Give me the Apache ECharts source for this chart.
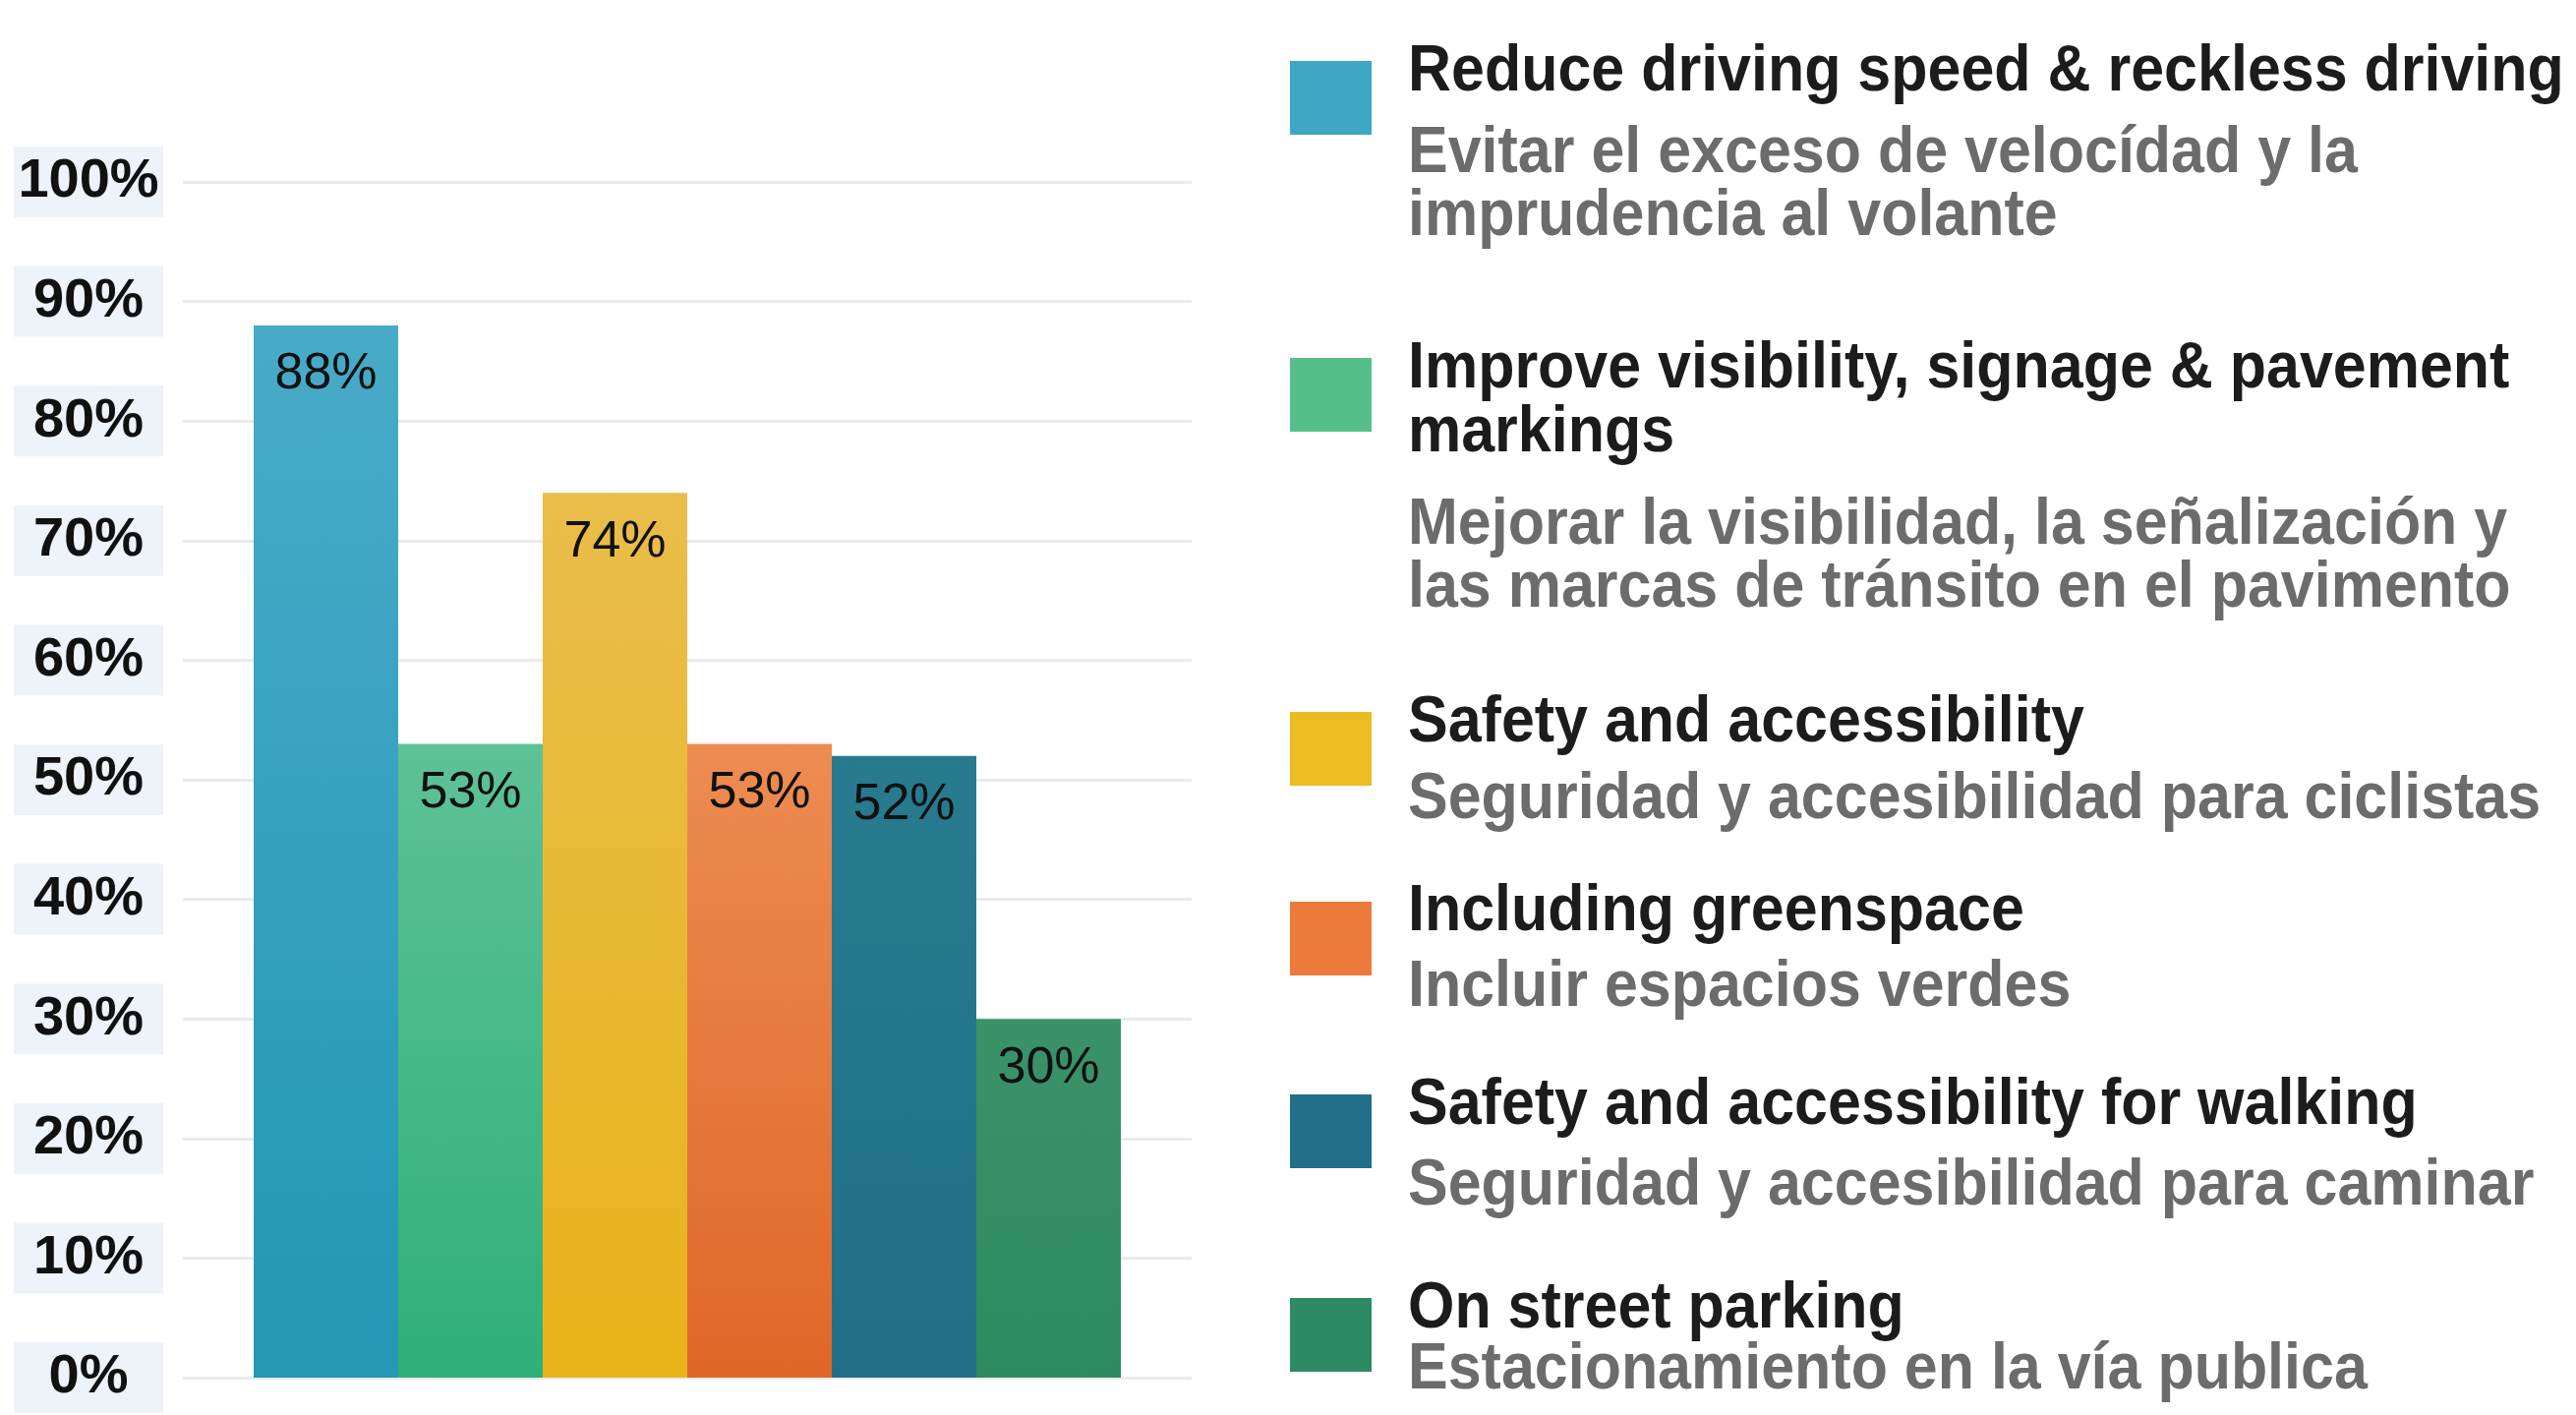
<!DOCTYPE html>
<html>
<head>
<meta charset="utf-8">
<script src="https://cdn.jsdelivr.net/npm/echarts@6/dist/echarts.min.js"></script>
<style>
  html, body { margin: 0; padding: 0; background: #ffffff; }
  #chart { width: 2620px; height: 1439px; }
</style>
</head>
<body>
<div id="chart"></div>
<script>
// ---- data ----
const categories = [
  'Reduce driving speed & reckless driving',
  'Improve visibility, signage & pavement markings',
  'Safety and accessibility',
  'Including greenspace',
  'Safety and accessibility for walking',
  'On street parking'
];
const values = [88, 53, 74, 53, 52, 30];
const yTickValues = [0, 10, 20, 30, 40, 50, 60, 70, 80, 90, 100];
const yTickLabels = ['0%', '10%', '20%', '30%', '40%', '50%', '60%', '70%', '80%', '90%', '100%'];
const titleLines = [
  ['Reduce driving speed & reckless driving'],
  ['Improve visibility, signage & pavement', 'markings'],
  ['Safety and accessibility'],
  ['Including greenspace'],
  ['Safety and accessibility for walking'],
  ['On street parking']
];
const spanishLines = [
  ['Evitar el exceso de velocídad y la', 'imprudencia al volante'],
  ['Mejorar la visibilidad, la señalización y', 'las marcas de tránsito en el pavimento'],
  ['Seguridad y accesibilidad para ciclistas'],
  ['Incluir espacios verdes'],
  ['Seguridad y accesibilidad para caminar'],
  ['Estacionamiento en la vía publica']
];

// ---- styles ----
const barTop = ['#48abc8', '#5ec296', '#e9bd4a', '#ed8c52', '#287b8f', '#3a9269'];
const barBottom = ['#2297b6', '#2faf79', '#e9b31a', '#df6728', '#216f87', '#2f8a5f'];
const swatch = ['#3ea7c6', '#55bf8c', '#ebbd22', '#ec7a3a', '#216f88', '#2e8a62'];

// legend layout (square top, title line centers, spanish line centers)
const legendLayout = [
  { sq: 62,   t: [74],        s: [157, 221] },
  { sq: 364,  t: [376, 441],  s: [535, 599] },
  { sq: 724,  t: [736],       s: [814] },
  { sq: 917,  t: [928],       s: [1005] },
  { sq: 1113, t: [1125],      s: [1207] },
  { sq: 1320, t: [1332],      s: [1394] }
];

const narrow = '"Liberation Sans Narrow", "Arial Narrow", "Liberation Sans", Arial, sans-serif';

const chart = echarts.init(document.getElementById('chart'), null, { renderer: 'canvas' });

const series = categories.map((name, i) => ({
  type: 'bar',
  name: name,
  data: [values[i]],
  barWidth: 147,
  barGap: '0%',
  itemStyle: {
    color: new echarts.graphic.LinearGradient(0, 0, 0, 1, [
      { offset: 0, color: barTop[i] },
      { offset: 1, color: barBottom[i] }
    ])
  },
  label: {
    show: true,
    position: 'insideTop',
    distance: 24,
    formatter: '{c}%',
    fontFamily: narrow,
    fontSize: 52,
    color: '#111111'
  },
  emphasis: { disabled: true }
}));

const graphics = [];
legendLayout.forEach((L, i) => {
  graphics.push({
    type: 'rect',
    shape: { x: 1312, y: L.sq, width: 83, height: 75 },
    style: { fill: swatch[i] }
  });
  titleLines[i].forEach((line, k) => {
    graphics.push({
      type: 'text',
      x: 1432, y: L.t[k],
      scaleX: 0.91,
      style: {
        text: line,
        font: 'bold 67px "Liberation Sans", Arial, sans-serif',
        fill: '#1c1c1c',
        textVerticalAlign: 'middle',
        verticalAlign: 'middle'
      }
    });
  });
  spanishLines[i].forEach((line, k) => {
    graphics.push({
      type: 'text',
      x: 1432, y: L.s[k],
      scaleX: 0.91,
      style: {
        text: line,
        font: 'bold 67px "Liberation Sans", Arial, sans-serif',
        fill: '#6c6c6c',
        textVerticalAlign: 'middle',
        verticalAlign: 'middle'
      }
    });
  });
});

chart.setOption({
  backgroundColor: '#ffffff',
  animation: false,
  grid: { left: 186, top: 185, width: 1026, height: 1216, containLabel: false },
  xAxis: {
    type: 'category',
    data: [''],
    axisLine: { show: false },
    axisTick: { show: false },
    axisLabel: { show: false },
    splitLine: { show: false }
  },
  yAxis: {
    type: 'value',
    min: 0,
    max: 100,
    interval: 10,
    axisLine: { show: false },
    axisTick: { show: false },
    splitLine: { show: true, lineStyle: { color: '#eaeaea', width: 3 } },
    axisLabel: {
      formatter: function (v) { return yTickLabels[yTickValues.indexOf(v)]; },
      fontFamily: narrow,
      fontWeight: 'bold',
      fontSize: 56,
      color: '#111111',
      backgroundColor: '#eef2f9',
      width: 152,
      align: 'center',
      margin: 96,
      padding: [8, 0, 8, 0]
    }
  },
  series: series,
  graphic: graphics
});
</script>
</body>
</html>
